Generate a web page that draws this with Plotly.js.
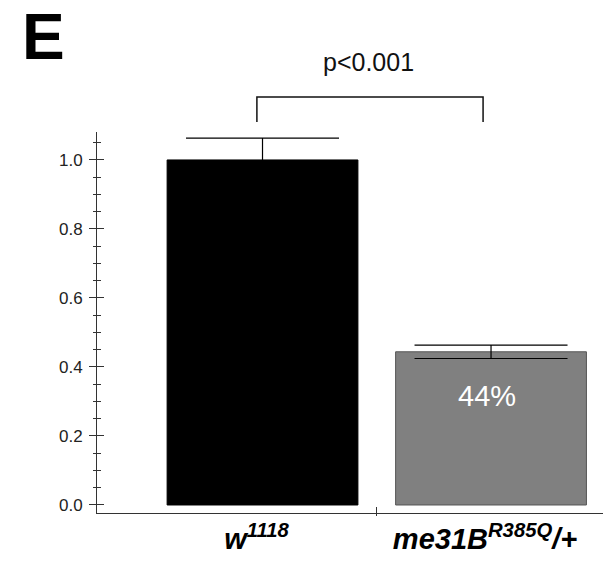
<!DOCTYPE html>
<html>
<head>
<meta charset="utf-8">
<script src="https://cdn.plot.ly/plotly-3.0.1.min.js"></script>
<style>html,body{margin:0;padding:0;background:#fff;}#chart{width:603px;height:561px;}</style>
</head>
<body>
<div id="chart"></div>
<script>
// Data
var categories = ['w<sup>1118</sup>', 'me31B<sup>R385Q</sup>/+'];
var xPos = [0, 1];
var values = [1.0, 0.444];
var errors = [0.063, 0.0195];
var barColors = ['#000000', '#808080'];
var barLineColors = ['#000000', '#555555'];
var yTickVals = [0, 0.2, 0.4, 0.6, 0.8, 1.0];
var percentLabel = '44%';
var pLabel = 'p<0.001';
var panelLabel = 'E';

var FONT = 'Liberation Sans, Arial, sans-serif';
var yRange = [-0.0232, 1.081];
var xRange = [-0.7243, 1.490];

var traces = [
  {
    type: 'bar', x: xPos, y: values, width: 0.835,
    marker: {color: barColors, line: {color: barLineColors, width: 1}},
    error_y: {type: 'data', array: errors, visible: true, color: '#000000', thickness: 1.2, width: 76.5},
    hoverinfo: 'skip', showlegend: false
  },
  {type: 'scatter', mode: 'none', x: xPos, y: values, xaxis: 'x2', yaxis: 'y2', hoverinfo: 'skip', showlegend: false},
  {type: 'scatter', mode: 'none', x: xPos, y: values, xaxis: 'x3', yaxis: 'y', hoverinfo: 'skip', showlegend: false}
];

var layout = {
  width: 603, height: 561,
  margin: {l: 97, r: 0, t: 132, b: 48},
  paper_bgcolor: '#fff', plot_bgcolor: 'rgba(0,0,0,0)',
  showlegend: false,
  font: {family: FONT, color: '#222'},
  xaxis: {
    range: xRange, tickvals: xPos,
    ticktext: categories.map(function(c){return '<b><i>' + c + '</i></b>';}),
    ticks: '', showline: true, linecolor: '#333', linewidth: 1,
    showgrid: false, zeroline: false,
    tickfont: {family: FONT, size: 29, color: '#000'}, ticklabelstandoff: 0, ticklabelshift: -6
  },
  xaxis2: {
    overlaying: 'x', anchor: 'y', range: xRange, tickvals: [0.5], ticktext: [''],
    ticks: 'inside', ticklen: 6, tickcolor: '#333', showline: false, showgrid: false, zeroline: false, showticklabels: false
  },
  xaxis3: {
    overlaying: 'x', anchor: 'y', range: xRange, tickvals: [0.5], ticktext: [''],
    ticks: 'outside', ticklen: 2, tickcolor: '#333', showline: false, showgrid: false, zeroline: false, showticklabels: false
  },
  yaxis: {
    range: yRange, tickvals: yTickVals, tickformat: '.1f',
    ticks: 'outside', ticklen: 7, tickcolor: '#333', tickwidth: 1,
    minor: {dtick: 0.05, tick0: 0, ticks: 'outside', ticklen: 3, tickcolor: '#333'},
    showline: true, linecolor: '#333', linewidth: 1,
    showgrid: false, zeroline: false,
    tickfont: {family: FONT, size: 17, color: '#222'}, ticklabelstandoff: 3
  },
  yaxis2: {
    overlaying: 'y', anchor: 'x', range: yRange, tickvals: yTickVals,
    ticks: 'inside', ticklen: 7, tickcolor: '#333', tickwidth: 1,
    minor: {dtick: 0.05, tick0: 0, ticks: 'inside', ticklen: 4, tickcolor: '#333'},
    showline: false, showgrid: false, zeroline: false, showticklabels: false
  },
  shapes: [
    {type: 'path', xref: 'paper', yref: 'paper',
     path: 'M 0.316 1.026 L 0.316 1.092 L 0.763 1.092 L 0.763 1.026',
     line: {color: '#111', width: 1.5}}
  ],
  annotations: [
    {text: '<b>' + panelLabel + '</b>', xref: 'paper', yref: 'paper', x: -0.106, y: 1.25,
     xanchor: 'center', yanchor: 'middle', showarrow: false, font: {family: FONT, size: 64, color: '#000'}},
    {text: pLabel.replace('<', '&lt;'), xref: 'paper', yref: 'paper', x: 0.5375, y: 1.183,
     xanchor: 'center', yanchor: 'middle', showarrow: false, font: {family: FONT, size: 25, color: '#111'}},
    {text: percentLabel, xref: 'x', yref: 'y', x: xPos[1], y: 0.317, xshift: -4,
     xanchor: 'center', yanchor: 'middle', showarrow: false, font: {family: FONT, size: 29, color: '#fff'}}
  ]
};

Plotly.newPlot('chart', traces, layout, {displayModeBar: false, staticPlot: true});
</script>
</body>
</html>
